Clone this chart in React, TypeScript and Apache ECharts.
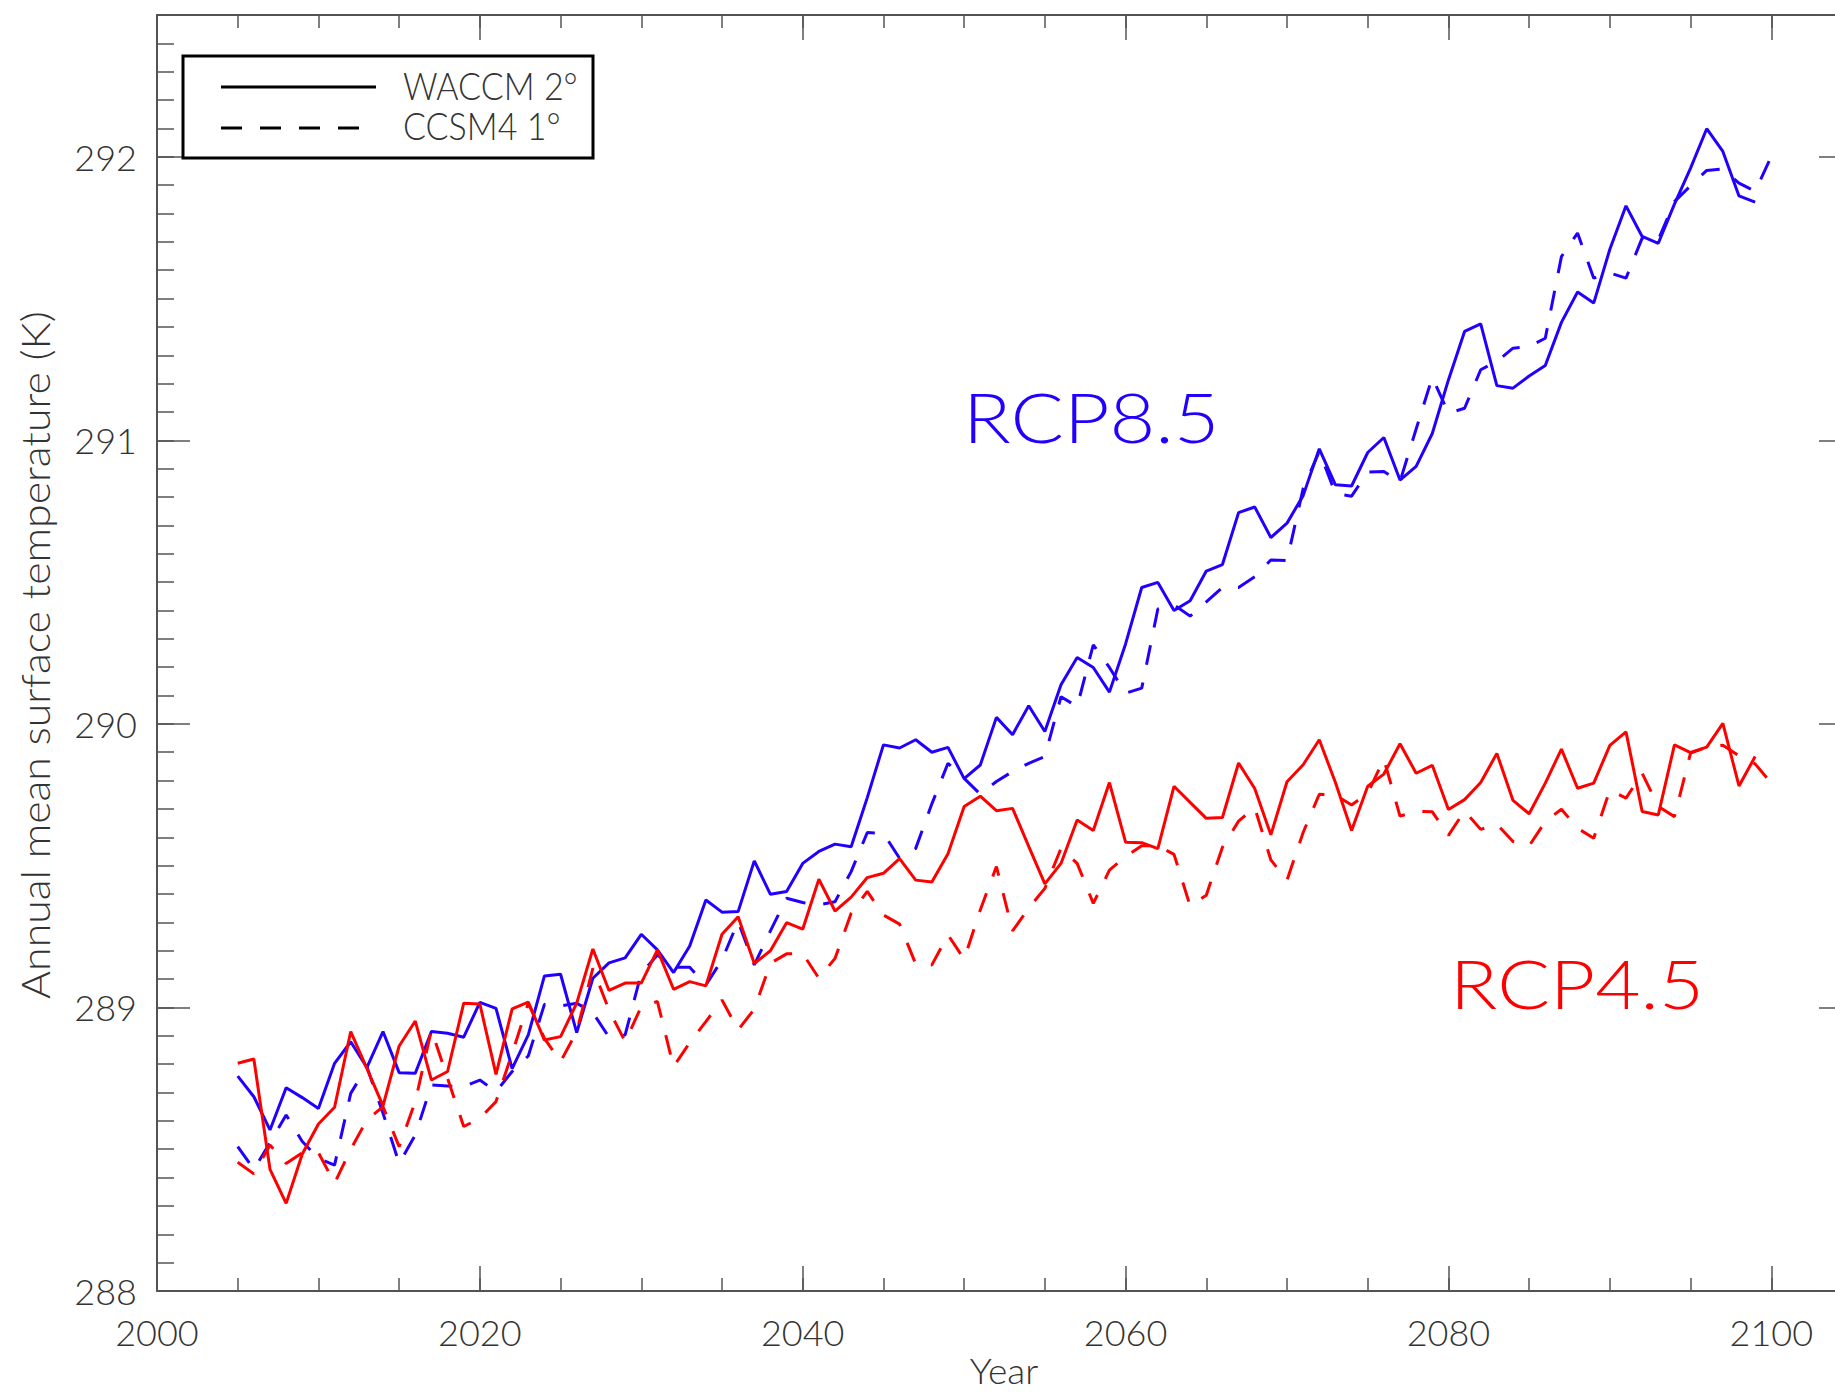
import React, { useEffect, useRef } from "react";
import * as echarts from "echarts";

// Annual mean surface temperature (K), one value per year starting in 2005.
const firstYear = 2005;

// Tick labels
const xTickYears = [2000, 2020, 2040, 2060, 2080, 2100];
const yTickTemps = [288, 289, 290, 291, 292];

// WACCM 2°, RCP8.5 (2005–2099)
const waccmRcp85 = [
  288.758, 288.685, 288.568, 288.717, 288.682, 288.644, 288.803, 288.879, 288.788, 288.915,
  288.770, 288.768, 288.915, 288.909, 288.895, 289.018, 288.997, 288.784, 288.903, 289.111,
  289.117, 288.911, 289.103, 289.157, 289.175, 289.258, 289.203, 289.123, 289.217, 289.379,
  289.336, 289.338, 289.517, 289.399, 289.409, 289.508, 289.550, 289.576, 289.567, 289.740,
  289.926, 289.915, 289.944, 289.900, 289.917, 289.807, 289.855, 290.023, 289.962, 290.064,
  289.973, 290.138, 290.234, 290.199, 290.112, 290.282, 290.481, 290.499, 290.400, 290.434,
  290.539, 290.562, 290.745, 290.765, 290.657, 290.708, 290.805, 290.970, 290.843, 290.839,
  290.957, 291.010, 290.860, 290.908, 291.024, 291.213, 291.384, 291.411, 291.193, 291.184,
  291.227, 291.264, 291.416, 291.523, 291.484, 291.674, 291.827, 291.719, 291.695, 291.833,
  291.960, 292.099, 292.019, 291.862, 291.840,
];

// CCSM4 1°, RCP8.5 (2005–2100)
const ccsm4Rcp85 = [
  288.509, 288.429, 288.523, 288.621, 288.527, 288.468, 288.444, 288.697, 288.791, 288.627,
  288.450, 288.550, 288.727, 288.723, 288.721, 288.744, 288.703, 288.774, 288.829, 289.011,
  289.005, 289.015, 288.982, 288.895, 288.903, 289.121, 289.185, 289.142, 289.142, 289.079,
  289.168, 289.303, 289.150, 289.270, 289.385, 289.370, 289.362, 289.373, 289.479, 289.617,
  289.614, 289.526, 289.561, 289.718, 289.861, 289.808, 289.752, 289.797, 289.832, 289.861,
  289.885, 290.096, 290.061, 290.279, 290.199, 290.108, 290.126, 290.405, 290.420, 290.380,
  290.430, 290.481, 290.481, 290.519, 290.578, 290.576, 290.830, 290.961, 290.812, 290.803,
  290.888, 290.890, 290.855, 291.040, 291.222, 291.096, 291.113, 291.249, 291.278, 291.325,
  291.331, 291.360, 291.648, 291.731, 291.572, 291.590, 291.572, 291.713, 291.707, 291.842,
  291.898, 291.952, 291.957, 291.907, 291.878, 292.001,
];

// WACCM 2°, RCP4.5 (2005–2099)
const waccmRcp45 = [
  288.803, 288.818, 288.429, 288.309, 288.483, 288.589, 288.648, 288.915, 288.785, 288.653,
  288.864, 288.952, 288.744, 288.774, 289.015, 289.012, 288.764, 288.995, 289.019, 288.885,
  288.897, 289.015, 289.206, 289.060, 289.086, 289.086, 289.203, 289.064, 289.091, 289.076,
  289.258, 289.320, 289.155, 289.200, 289.299, 289.276, 289.452, 289.340, 289.389, 289.458,
  289.473, 289.525, 289.449, 289.442, 289.542, 289.709, 289.745, 289.694, 289.702, 289.568,
  289.436, 289.508, 289.661, 289.624, 289.793, 289.583, 289.581, 289.560, 289.780, 289.723,
  289.667, 289.670, 289.862, 289.772, 289.609, 289.796, 289.856, 289.944, 289.793, 289.624,
  289.780, 289.823, 289.930, 289.826, 289.854, 289.698, 289.733, 289.793, 289.896, 289.730,
  289.683, 289.791, 289.911, 289.773, 289.791, 289.924, 289.972, 289.691, 289.679, 289.926,
  289.899, 289.918, 290.002, 289.781, 289.885,
];

// CCSM4 1°, RCP4.5 (2005–2100)
const ccsm4Rcp45 = [
  288.454, 288.413, 288.515, 288.450, 288.488, 288.488, 288.380, 288.500, 288.603, 288.650,
  288.509, 288.668, 288.921, 288.750, 288.580, 288.609, 288.668, 288.838, 289.015, 288.891,
  288.809, 288.915, 289.138, 288.991, 288.879, 289.003, 289.021, 288.791, 288.876, 288.950,
  289.026, 288.921, 288.994, 289.156, 289.189, 289.190, 289.103, 289.173, 289.332, 289.409,
  289.326, 289.294, 289.153, 289.150, 289.256, 289.170, 289.344, 289.497, 289.270, 289.350,
  289.420, 289.561, 289.508, 289.367, 289.484, 289.532, 289.570, 289.570, 289.540, 289.358,
  289.396, 289.565, 289.657, 289.705, 289.520, 289.449, 289.617, 289.752, 289.749, 289.714,
  289.755, 289.876, 289.675, 289.691, 289.690, 289.607, 289.693, 289.628, 289.646, 289.585,
  289.570, 289.656, 289.699, 289.632, 289.597, 289.767, 289.738, 289.826, 289.709, 289.673,
  289.897, 289.918, 289.925, 289.887, 289.859, 289.791,
];

const BLUE = "#2200ff";
const RED = "#ff0000";
const AXIS = "#1a1a1a";
const TICK = "#555555";
const TEXT = "#333333";
const FONT = 'Lato, "DejaVu Sans", sans-serif';
const DASH = [20, 18];

const X_MIN = 2000;
const X_MAX = 2105;
const Y_MIN = 288;
const Y_MAX = 292.5;

const toPairs = (values: number[]) => values.map((v, i) => [firstYear + i, v]);

function xAxisDef(position: "bottom" | "top", major: boolean) {
  return {
    type: "value",
    position,
    min: X_MIN,
    max: X_MAX,
    interval: major ? 20 : 5,
    axisLine: { show: major, onZero: false, lineStyle: { color: AXIS, width: 1.5 } },
    axisTick: { show: true, inside: true, length: major ? 25 : 13, lineStyle: { color: TICK, width: 1.5 } },
    axisLabel:
      major && position === "bottom"
        ? {
            show: true,
            margin: 23,
            showMaxLabel: false,
            color: TEXT,
            fontFamily: FONT,
            fontWeight: 300,
            fontSize: 36,
            formatter: (v: number) => (xTickYears.includes(v) ? String(v) : ""),
          }
        : { show: false },
    splitLine: { show: false },
  };
}

function yAxisDef(position: "left" | "right", major: boolean) {
  return {
    type: "value",
    position,
    min: Y_MIN,
    max: Y_MAX,
    interval: major ? 1 : 0.1,
    axisLine: { show: major, onZero: false, lineStyle: { color: AXIS, width: 1.5 } },
    axisTick: { show: true, inside: true, length: major ? 33 : 17, lineStyle: { color: TICK, width: 1.5 } },
    axisLabel:
      major && position === "left"
        ? {
            show: true,
            margin: 20,
            showMaxLabel: false,
            color: TEXT,
            fontFamily: FONT,
            fontWeight: 300,
            fontSize: 36,
            formatter: (v: number) => (yTickTemps.includes(v) ? String(v) : ""),
          }
        : { show: false },
    splitLine: { show: false },
  };
}

function lineSeries(name: string, values: number[], color: string, dashed: boolean) {
  return {
    name,
    type: "line",
    xAxisIndex: 0,
    yAxisIndex: 0,
    data: toPairs(values),
    showSymbol: false,
    symbol: "none",
    lineStyle: { color, width: 3, type: dashed ? DASH : "solid" },
    emphasis: { disabled: true },
    silent: true,
  };
}

function label(
  text: string,
  x: number,
  y: number,
  size: number,
  color: string,
  scaleX: number,
  align: string = "left",
  rotation: number = 0
) {
  return {
    type: "text",
    x,
    y,
    scaleX,
    rotation,
    z: 11,
    style: {
      text,
      fill: color,
      fontFamily: FONT,
      fontWeight: 300,
      fontSize: size,
      align,
      verticalAlign: "middle",
    },
  };
}

export default function App() {
  const ref = useRef<HTMLDivElement>(null);

  useEffect(() => {
    if (!ref.current) return;
    const chart = echarts.init(ref.current, null, { renderer: "svg" });

    chart.setOption({
      animation: false,
      backgroundColor: "#ffffff",
      grid: { left: 157, top: 15, width: 1695, height: 1276, containLabel: false, outerBoundsMode: "none" },
      xAxis: [
        xAxisDef("bottom", true),
        xAxisDef("bottom", false),
        xAxisDef("top", true),
        xAxisDef("top", false),
      ],
      yAxis: [
        yAxisDef("left", true),
        yAxisDef("left", false),
        yAxisDef("right", true),
        yAxisDef("right", false),
      ],
      series: [
        lineSeries("WACCM 2° RCP8.5", waccmRcp85, BLUE, false),
        lineSeries("CCSM4 1° RCP8.5", ccsm4Rcp85, BLUE, true),
        lineSeries("WACCM 2° RCP4.5", waccmRcp45, RED, false),
        lineSeries("CCSM4 1° RCP4.5", ccsm4Rcp45, RED, true),
      ],
      graphic: [
        // Axis titles
        label("Annual mean surface temperature (K)", 35, 655, 39, TEXT, 1.1, "center", Math.PI / 2),
        label("Year", 1004, 1370, 36, TEXT, 1.03, "center"),
        // Legend box
        {
          type: "rect",
          shape: { x: 183, y: 56, width: 410, height: 102 },
          style: { fill: "#ffffff", stroke: "#000000", lineWidth: 3 },
          z: 10,
        },
        {
          type: "line",
          shape: { x1: 221, y1: 87, x2: 376, y2: 87 },
          style: { stroke: "#000000", lineWidth: 3 },
          z: 11,
        },
        {
          type: "line",
          shape: { x1: 221, y1: 128, x2: 359, y2: 128 },
          style: { stroke: "#000000", lineWidth: 3, lineDash: [21, 18] },
          z: 11,
        },
        label("WACCM 2°", 403, 86, 37, TEXT, 0.92),
        label("CCSM4 1°", 403, 126, 37, TEXT, 0.92),
        // Scenario labels
        label("RCP8.5", 963, 417, 68, BLUE, 1.16),
        label("RCP4.5", 1450, 983, 68, RED, 1.15),
      ],
    });

    return () => chart.dispose();
  }, []);

  return (
    <div
      ref={ref}
      style={{ position: "absolute", left: 0, top: 0, width: 1835, height: 1392, background: "#ffffff" }}
    />
  );
}
